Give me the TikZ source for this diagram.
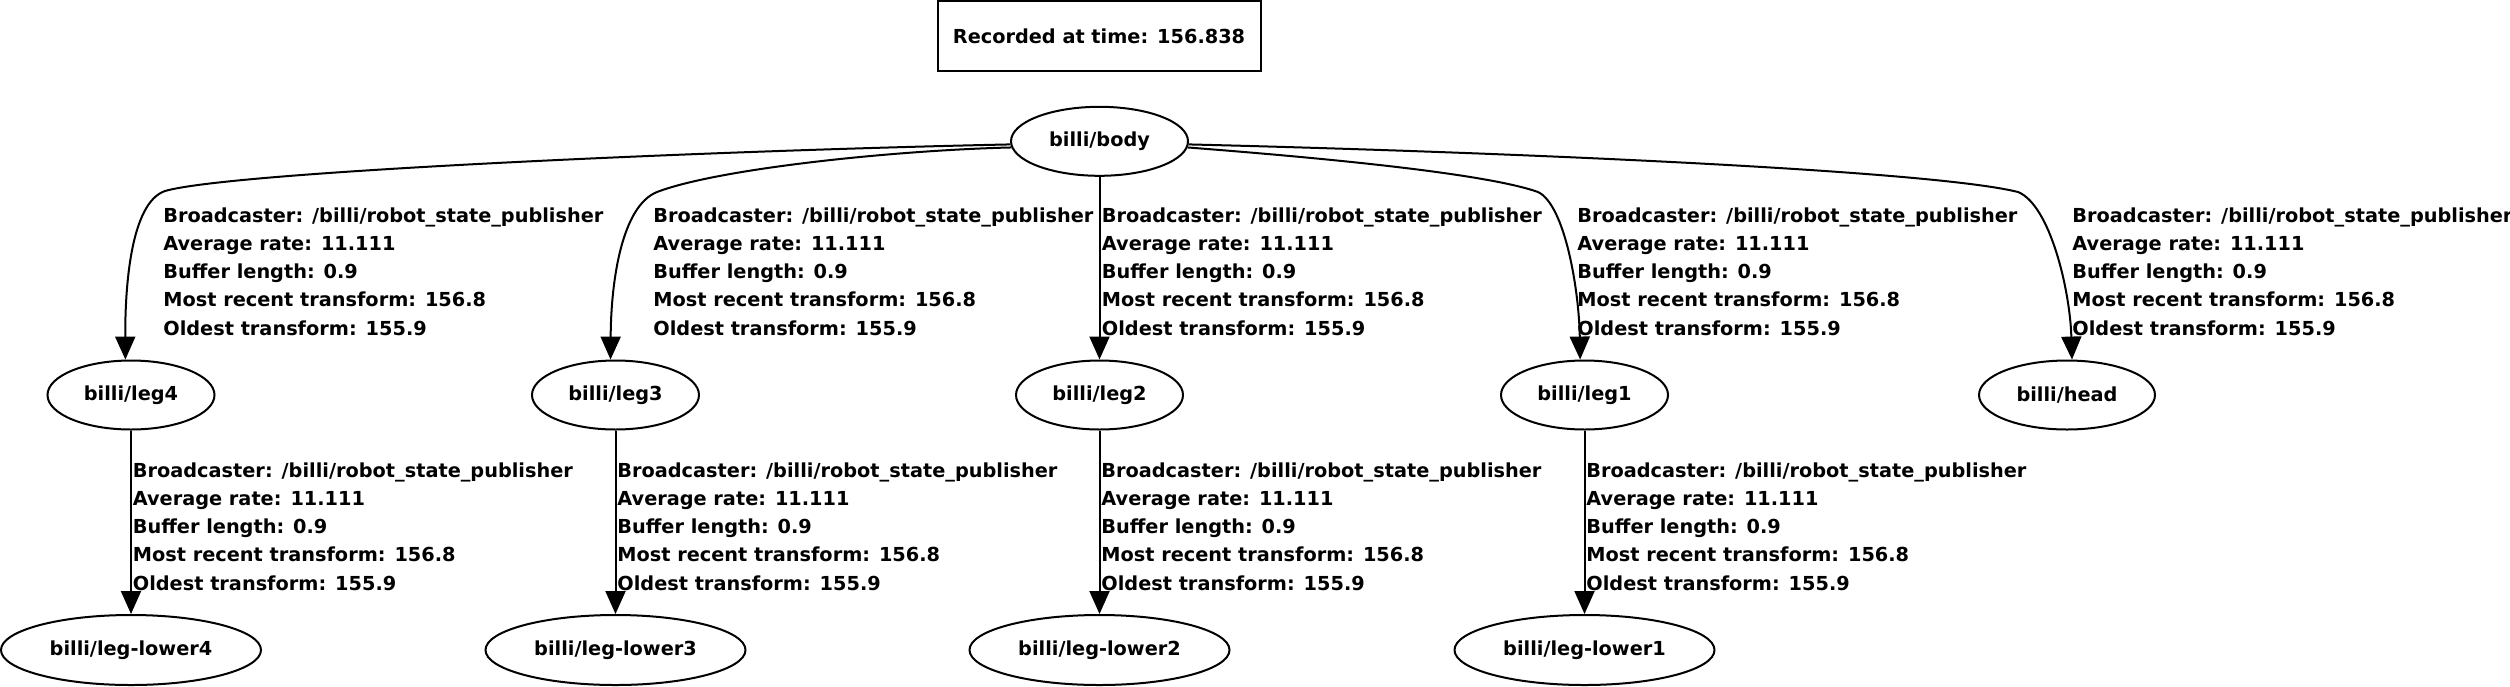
\documentclass[tikz,border=0pt]{standalone}
\usepackage{fontspec}
\setmainfont{DejaVu Sans}
\usetikzlibrary{shapes.geometric,arrows.meta}

\tikzset{
	every node/.style={font=\fontsize{9.65pt}{14.15pt}\selectfont\bfseries},
	frame/.style={ellipse, draw, line width=1pt, inner sep=0pt, minimum height=34.5pt},
	tf/.style={line width=1pt, -{Triangle[length=11.5pt,width=10pt]}},
	info/.style={anchor=north west, inner sep=0pt, align=left},
}
\newcommand{\tfinfo}{Broadcaster: /billi/robot\_state\_publisher\\Average rate: 11.111\\Buffer length: 0.9\\Most recent transform: 156.8\\Oldest transform: 155.9}

\begin{document}
\begin{tikzpicture}[x=0.5pt, y=-0.5pt]
		\useasboundingbox (0,0) rectangle (2510,686);

		\node[draw, line width=1pt, minimum width=161.5pt, minimum height=35pt] (title) at (1099,36) {Recorded at time: 156.838};

		\node[frame, minimum width=88.5pt] (body) at (1099.5,141.3) {billi/body};
		\node[frame, minimum width=88pt] (head) at (2067,395) {billi/head};

		% legs and their lower parts
		\foreach \i/\x in {4/131, 3/615.5, 2/1099.5, 1/1584.5} {
			\node[frame, minimum width=83.5pt] (leg\i) at (\x,395) {billi/leg\i};
			\node[frame, minimum width=130pt, minimum height=35pt] (lower\i) at (\x,650) {billi/leg-lower\i};
			\draw[tf] (leg\i) -- (lower\i);
			\node[info] (tflow\i) at (\x+1.5,462) {\tfinfo};
		}

		% edges from the body
		\draw[tf] (body.182) .. controls (700,151) and (230,172) .. (165,191) .. controls (130,203) and (125,290) .. (leg4.99);
		\draw[tf] (body.184) .. controls (900,150) and (720,168) .. (657,192) .. controls (622,206) and (611,280) .. (leg3.98);
		\draw[tf] (body) -- (leg2);
		\draw[tf] (body.-4) .. controls (1350,160) and (1490,175) .. (1538,192) .. controls (1565,205) and (1579,290) .. (leg1.97);
		\draw[tf] (body.-2) .. controls (1500,152) and (1930,170) .. (2018,192) .. controls (2050,205) and (2070,290) .. (head.82);

		\foreach \n/\x in {4/163, 3/653, 2/1101.5, 1/1577, head/2072}
			\node[info] (tfup\n) at (\x,207) {\tfinfo};
	\end{tikzpicture}
\end{document}
